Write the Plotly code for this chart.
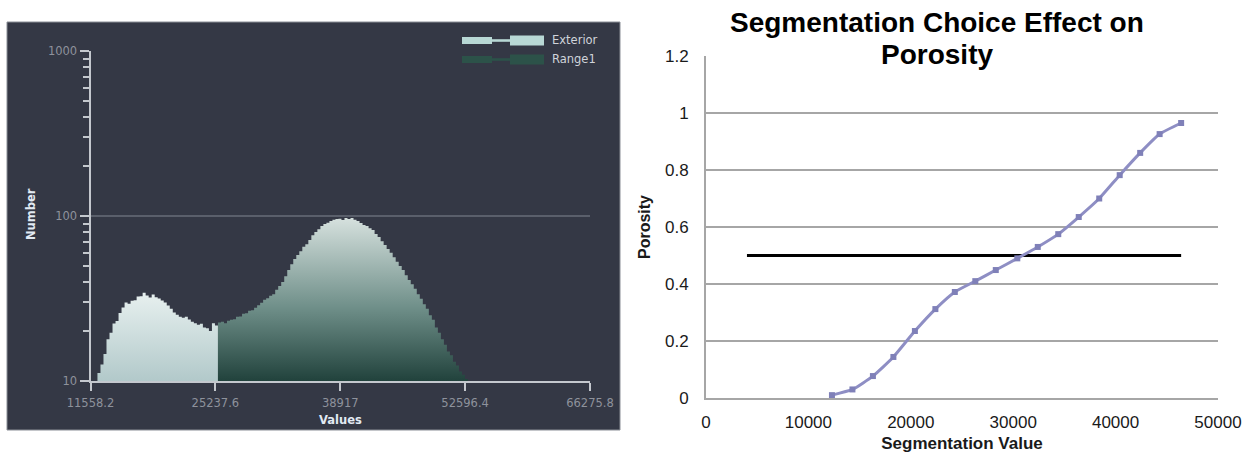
import numpy as np
import plotly.graph_objects as go

W, H = 1251, 456

# ---------------- histogram (left) ----------------
value_ticks = [11558.2, 25237.6, 38917, 52596.4, 66275.8]
value_tick_text = ["11558.2", "25237.6", "38917", "52596.4", "66275.8"]
number_ticks = [10, 100, 1000]
number_tick_text = ["10", "100", "1000"]
number_minor = [20, 30, 40, 50, 60, 70, 80, 90, 200, 300, 400, 500, 600, 700, 800, 900]

bin_start = 12320
bin_width = 330

exterior_counts = [
    11.2, 12.6, 14.6, 17.9, 19.6, 22.3, 23.1, 25.8, 27.9, 29.9,
    29.4, 30.6, 30.9, 32.5, 32.6, 34.3, 33.0, 32.1, 33.4, 32.2,
    31.6, 30.8, 29.9, 28.7, 27.4, 26.0, 25.2, 24.5, 24.2, 24.5,
    23.6, 22.9, 22.4, 21.9, 22.2, 21.1, 20.9, 20.1, 22.4, 21.7,
]

range1_counts = [
    22.6, 22.9, 22.4, 23.2, 23.5, 23.7, 24.5, 24.6, 25.6, 25.7,
    26.7, 26.8, 27.8, 28.8, 29.8, 31.1, 31.7, 32.9, 33.5, 35.7,
    37.6, 39.8, 43.2, 47.1, 51.0, 54.9, 58.1, 61.2, 65.0, 67.5,
    71.6, 76.5, 80.1, 83.2, 87.0, 89.3, 90.9, 93.1, 94.8, 95.9,
    96.2, 94.5, 97.4, 95.8, 97.2, 94.8, 93.2, 90.8, 88.1, 87.0,
    84.3, 82.3, 77.7, 74.6, 70.4, 66.8, 63.0, 59.9, 56.3, 52.8,
    49.7, 47.1, 43.8, 41.0, 38.6, 36.2, 33.5, 31.5, 29.2, 27.4,
    25.0, 23.5, 21.1, 19.6, 17.9, 16.6, 15.1, 14.3, 13.1, 12.4,
    11.4, 10.9, 10.3,
]

# ---------------- porosity curve (right) ----------------
seg_values = [12300, 14300, 16300, 18300, 20400, 22400, 24300, 26300, 28300,
              30400, 32400, 34400, 36400, 38400, 40400, 42400, 44300, 46400]
porosity = [0.010, 0.030, 0.077, 0.144, 0.235, 0.312, 0.372, 0.410, 0.449,
            0.490, 0.530, 0.575, 0.635, 0.700, 0.782, 0.860, 0.926, 0.965]
threshold_x = [4000, 46400]
threshold_y = [0.5, 0.5]

title_lines = ["Segmentation Choice Effect on", "Porosity"]


def step_xy(start, counts):
    edges = start + bin_width * np.arange(len(counts) + 1)
    return edges, list(counts) + [counts[-1]]


ext_x, ext_y = step_xy(bin_start, exterior_counts)
rng_start = bin_start + bin_width * len(exterior_counts)
rng_x, rng_y = step_xy(rng_start, range1_counts)
floor = number_ticks[0]

fig = go.Figure()

for xs, ys, name, cs in [
    (ext_x, ext_y, "Exterior", [[0, "#b2c9ca"], [1, "#e7f0ef"]]),
    (rng_x, rng_y, "Range1", [[0, "#21423c"], [0.45, "#6f8f89"], [1, "#d6e1de"]]),
]:
    fig.add_trace(go.Scatter(
        x=xs, y=[floor] * len(xs), mode="lines", line=dict(width=0, shape="hv"),
        hoverinfo="skip", showlegend=False, xaxis="x", yaxis="y"))
    fig.add_trace(go.Scatter(
        x=xs, y=ys, name=name, mode="lines", line=dict(width=0, shape="hv"),
        fill="tonexty", fillgradient=dict(type="vertical", colorscale=cs),
        showlegend=False, xaxis="x", yaxis="y"))

fig.add_trace(go.Scatter(
    x=threshold_x, y=threshold_y, mode="lines",
    line=dict(color="#000000", width=3), showlegend=False,
    xaxis="x2", yaxis="y2"))
fig.add_trace(go.Scatter(
    x=seg_values, y=porosity, mode="lines+markers",
    line=dict(color="#8e8ec4", width=3, shape="spline", smoothing=0.5),
    marker=dict(symbol="square", size=6, color="#7f80b8"),
    showlegend=False, xaxis="x2", yaxis="y2"))


def px(x):
    return x / W


def py(y):
    return 1 - y / H


dark_font = "DejaVu Sans"
tick_grey = "#8e929c"
arial = "Liberation Sans, Arial"

shapes = [
    dict(type="rect", xref="paper", yref="paper", x0=px(7), x1=px(620),
         y0=py(430), y1=py(22), fillcolor="#343845",
         line=dict(color="#8a8e96", width=1), layer="below"),
]
# legend glyphs
for yc, col in [(40.5, "#b8d8d5"), (59.5, "#2c5249")]:
    shapes += [
        dict(type="rect", xref="paper", yref="paper", x0=px(462), x1=px(492),
             y0=py(yc + 3.5), y1=py(yc - 3.5), fillcolor=col, line=dict(width=0)),
        dict(type="rect", xref="paper", yref="paper", x0=px(491), x1=px(511),
             y0=py(yc + 1.3), y1=py(yc - 1.3), fillcolor=col, line=dict(width=0)),
        dict(type="rect", xref="paper", yref="paper", x0=px(510), x1=px(544),
             y0=py(yc + 5), y1=py(yc - 5), fillcolor=col, line=dict(width=0)),
    ]

annotations = [
    dict(text="Exterior", xref="paper", yref="paper", x=px(550), y=py(40.5),
         xanchor="left", yanchor="middle", showarrow=False,
         font=dict(family=dark_font, size=11.5, color="#d0d4da")),
    dict(text="Range1", xref="paper", yref="paper", x=px(550), y=py(59.5),
         xanchor="left", yanchor="middle", showarrow=False,
         font=dict(family=dark_font, size=11.5, color="#d0d4da")),
    dict(text="<b>Values</b>", xref="paper", yref="paper", x=px(340), y=py(420),
         xanchor="center", yanchor="middle", showarrow=False,
         font=dict(family=dark_font, size=11.5, color="#e2eaf3")),
    dict(text="<b>Number</b>", xref="paper", yref="paper", x=px(31), y=py(214),
         xanchor="center", yanchor="middle", showarrow=False, textangle=-90,
         font=dict(family=dark_font, size=11.5, color="#e2eaf3")),
]
# two-line chart title
for line_text, yc in zip(title_lines, [22, 55]):
    annotations.append(dict(
        text="<b>" + line_text + "</b>", xref="paper", yref="paper",
        x=px(937), y=py(yc), xanchor="center", yanchor="middle", showarrow=False,
        font=dict(family=arial, size=28, color="#000000")))

fig.update_layout(
    width=W, height=H,
    margin=dict(l=0, r=0, t=0, b=0, autoexpand=False),
    paper_bgcolor="#ffffff",
    plot_bgcolor="rgba(0,0,0,0)",
    shapes=shapes,
    annotations=annotations,
    xaxis=dict(domain=[px(90.5), px(590)], range=[value_ticks[0], value_ticks[-1]],
               tickmode="array", tickvals=value_ticks, ticktext=value_tick_text,
               showgrid=False, zeroline=False, showline=True, automargin=False,
               linecolor="#c4c8ce", linewidth=2, ticks="outside", ticklen=8,
               tickcolor="#c4c8ce", tickwidth=2, ticklabelstandoff=2,
               tickfont=dict(family=dark_font, size=11.5, color=tick_grey),
               anchor="y"),
    yaxis=dict(domain=[py(381), py(51)], type="log", range=[1, 3],
               tickmode="array", tickvals=number_ticks, ticktext=number_tick_text,
               showgrid=True, gridcolor="#5a5f6b", gridwidth=2, automargin=False,
               zeroline=False, showline=True, linecolor="#c4c8ce", linewidth=2,
               ticks="outside", ticklen=9, tickcolor="#c4c8ce", tickwidth=2,
               minor=dict(tickmode="array", tickvals=number_minor, ticks="outside",
                          ticklen=6, tickcolor="#c4c8ce", tickwidth=2, showgrid=False),
               tickfont=dict(family=dark_font, size=11.5, color=tick_grey),
               anchor="x"),
    xaxis2=dict(domain=[px(706), px(1218)], range=[0, 50000], dtick=10000,
                tickformat="d", showgrid=False, zeroline=False, automargin=False,
                showline=True, linecolor="#a6a6a6", linewidth=2, ticks="",
                ticklabelstandoff=8,
                tickfont=dict(family=arial, size=17, color="#1a1a1a"),
                title=dict(text="<b>Segmentation Value</b>", standoff=6,
                           font=dict(family=arial, size=17, color="#1a1a1a")),
                anchor="y2"),
    yaxis2=dict(domain=[py(398), py(56)], range=[0, 1.2], dtick=0.2,
                showgrid=True, gridcolor="#a6a6a6", gridwidth=2, automargin=False,
                zeroline=False, showline=True, linecolor="#a6a6a6", linewidth=2,
                ticks="", ticklabelstandoff=12,
                tickfont=dict(family=arial, size=17, color="#1a1a1a"),
                title=dict(text="<b>Porosity</b>", standoff=10,
                           font=dict(family=arial, size=16, color="#1a1a1a")),
                anchor="x2"),
)

fig.write_html("out.html")
